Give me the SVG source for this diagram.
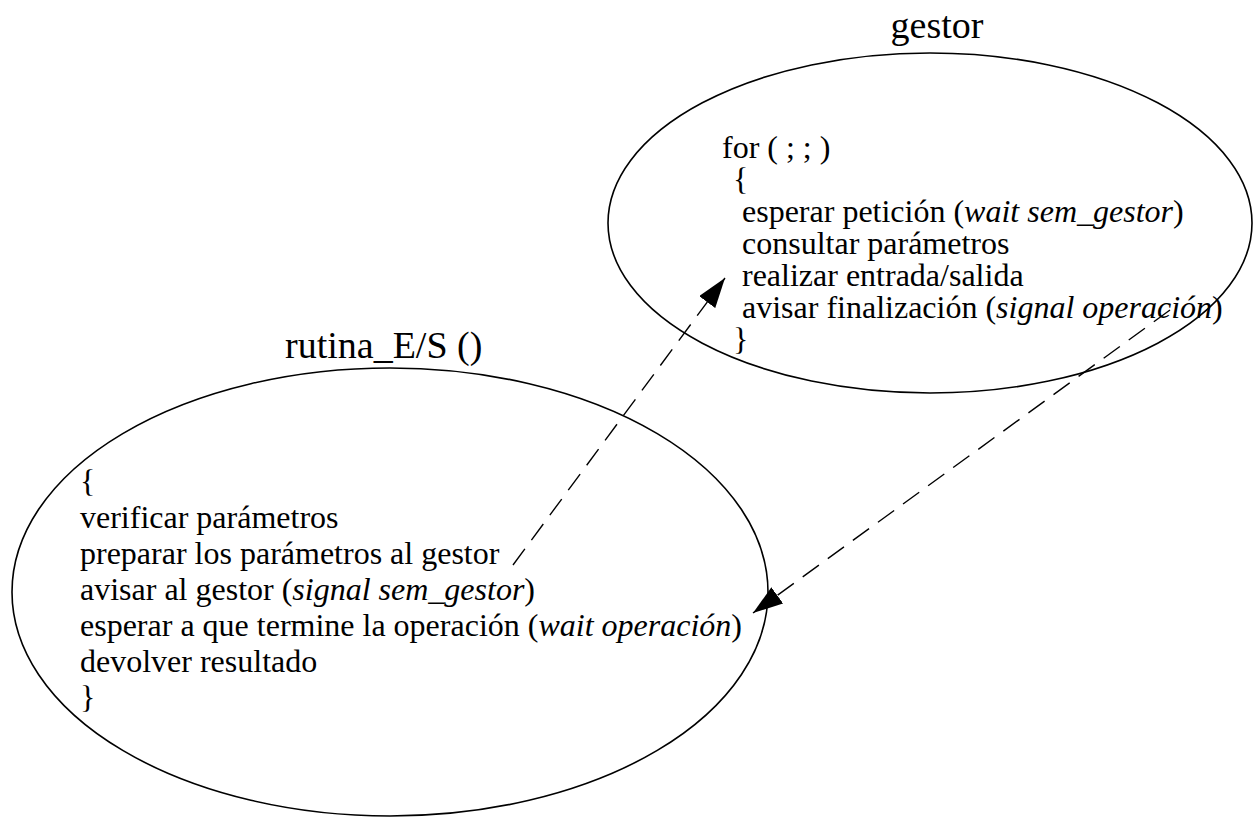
<svg xmlns="http://www.w3.org/2000/svg" width="1253" height="818" viewBox="0 0 1253 818">
  <style>
    .shape { fill: none; stroke: #000; stroke-width: 1.6; }
    .flow { fill: none; stroke: #000; stroke-width: 1.4; stroke-dasharray: 20 11; }
    .title { font-family: "Liberation Serif", "Times New Roman", serif; font-size: 38px; fill: #000; }
    .code { font-family: "Liberation Serif", "Times New Roman", serif; font-size: 32px; fill: #000; }
    .em { font-style: italic; }
  </style>
  <defs>
    <marker id="head" viewBox="0 0 30 20" refX="30" refY="10" markerWidth="30" markerHeight="20" markerUnits="userSpaceOnUse" orient="auto">
      <path d="M0,0 L30,10 L0,20 Z" fill="#000"/>
    </marker>
  </defs>

  <rect width="1253" height="818" fill="#fff"/>

  <!-- driver process -->
  <g id="gestor">
    <ellipse class="shape" cx="930" cy="223" rx="322" ry="170"/>
    <text class="title" x="937" y="38" text-anchor="middle">gestor</text>
    <text class="code" x="722" y="158">for ( ; ; )</text>
    <text class="code" x="733" y="190">{</text>
    <text class="code" x="742" y="222">esperar petición (<tspan class="em">wait sem_gestor</tspan>)</text>
    <text class="code" x="742" y="254">consultar parámetros</text>
    <text class="code" x="742" y="286">realizar entrada/salida</text>
    <text class="code" x="742" y="318">avisar finalización (<tspan class="em">signal operación</tspan>)</text>
    <text class="code" x="733" y="350">}</text>
  </g>

  <!-- I/O routine -->
  <g id="rutina">
    <ellipse class="shape" cx="390" cy="592" rx="378" ry="224"/>
    <text class="title" x="285" y="358">rutina_E/S ()</text>
    <text class="code" x="80" y="492">{</text>
    <text class="code" x="80" y="528">verificar parámetros</text>
    <text class="code" x="80" y="564">preparar los parámetros al gestor</text>
    <text class="code" x="80" y="600">avisar al gestor (<tspan class="em">signal sem_gestor</tspan>)</text>
    <text class="code" x="80" y="636">esperar a que termine la operación (<tspan class="em">wait operación</tspan>)</text>
    <text class="code" x="80" y="672">devolver resultado</text>
    <text class="code" x="80" y="708">}</text>
  </g>

  <g id="connectors">
    <line class="flow" x1="513" y1="565" x2="725" y2="278" marker-end="url(#head)"/>
    <line class="flow" x1="1170" y1="310" x2="753" y2="613" marker-end="url(#head)"/>
  </g>
</svg>
